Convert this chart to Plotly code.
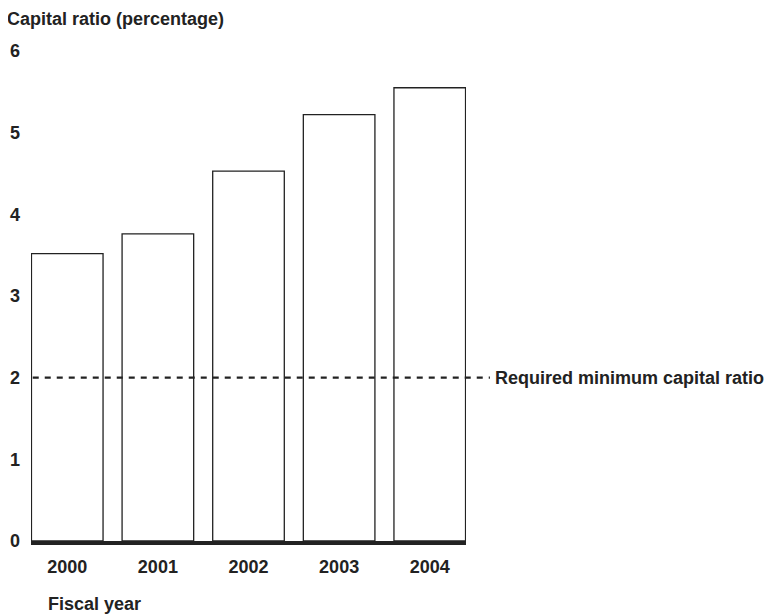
import plotly.graph_objects as go

years = ["2000", "2001", "2002", "2003", "2004"]
capital_ratio = [3.52, 3.76, 4.53, 5.22, 5.55]
required_min = 2
y_ticks = [0, 1, 2, 3, 4, 5, 6]

FONT = "Liberation Sans, Arial, sans-serif"
TXT = "#222222"
FS = 18

fig = go.Figure()
fig.add_trace(go.Bar(
    x=years, y=capital_ratio, width=0.79,
    marker=dict(color="white", line=dict(color="#222222", width=1.3)),
    hoverinfo="x+y", showlegend=False,
))

fig.add_shape(type="line", xref="paper", yref="y", x0=0.004, x1=1.055,
              y0=required_min, y1=required_min,
              line=dict(color="#222222", width=2.2, dash="6px,6px"))

fig.add_annotation(text="<b>Required minimum capital ratio</b>", xref="paper", yref="y",
                   x=1.062, y=required_min, xanchor="left", yanchor="middle",
                   showarrow=False, font=dict(family=FONT, size=FS, color=TXT))
fig.add_annotation(text="<b>Capital ratio (percentage)</b>", xref="paper", yref="paper",
                   x=-25/435, y=1.0 + 43/490, xanchor="left", yanchor="top",
                   borderpad=0,
                   showarrow=False, font=dict(family=FONT, size=FS, color=TXT))
fig.add_annotation(text="<b>Fiscal year</b>", xref="paper", yref="paper",
                   x=15/435, y=-63/490, xanchor="left", yanchor="middle",
                   showarrow=False, font=dict(family=FONT, size=FS, color=TXT))

fig.update_layout(
    width=770, height=606,
    margin=dict(l=23, r=312, t=43, b=73),
    plot_bgcolor="white", paper_bgcolor="white",
    font=dict(family=FONT, size=FS, color=TXT),
    xaxis=dict(range=[-0.4, 4.4], showgrid=False, zeroline=False,
               showline=True, linewidth=4, linecolor="#222222",
               ticks="", tickfont=dict(family=FONT, size=FS, color=TXT),
               tickvals=years, ticktext=[f"<b>{y}</b>" for y in years],
               ticklabelstandoff=6, automargin=False, fixedrange=True),
    yaxis=dict(range=[0, 6], showgrid=False, zeroline=False, showline=False,
               ticks="", tickvals=y_ticks, ticktext=[f"<b>{v}</b>" for v in y_ticks],
               tickfont=dict(family=FONT, size=FS, color=TXT),
               ticklabelstandoff=10, automargin=False, fixedrange=True),
)

fig.write_html("out.html")
